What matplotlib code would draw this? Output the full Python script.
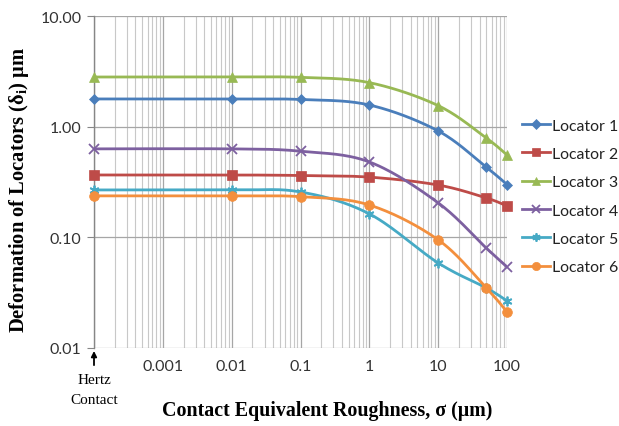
import numpy as np
import matplotlib
matplotlib.use("Agg")
import matplotlib.pyplot as plt
from matplotlib.ticker import FixedLocator, NullFormatter, LogLocator

plt.rcParams['mathtext.fontset'] = 'custom'
plt.rcParams['mathtext.rm'] = 'Liberation Serif:bold'
plt.rcParams['mathtext.it'] = 'Liberation Serif:bold'
plt.rcParams['mathtext.bf'] = 'Liberation Serif:bold'

# ---- data ----
sigma = [0.0001, 0.01, 0.1, 1, 10, 50, 100]   # 0.0001 = Hertz contact
loc1 = [1.78, 1.78, 1.76, 1.57, 0.915, 0.43, 0.30]
loc2 = [0.366, 0.366, 0.362, 0.35, 0.297, 0.227, 0.192]
loc3 = [2.81, 2.81, 2.79, 2.50, 1.55, 0.79, 0.555]
loc4 = [0.63, 0.63, 0.60, 0.48, 0.205, 0.080, 0.054]
loc5 = [0.268, 0.268, 0.257, 0.163, 0.0587, 0.0349, 0.0267]
loc6 = [0.237, 0.237, 0.233, 0.196, 0.095, 0.035, 0.0212]
labels = ["Locator 1", "Locator 2", "Locator 3", "Locator 4", "Locator 5", "Locator 6"]
xtick_vals = [0.001, 0.01, 0.1, 1, 10, 100]
xtick_labels = ["0.001", "0.01", "0.1", "1", "10", "100"]
ytick_vals = [0.01, 0.1, 1, 10]
ytick_labels = ["0.01", "0.10", "1.00", "10.00"]

series = [loc1, loc2, loc3, loc4, loc5, loc6]
colors = ["#4A7EBB", "#BE4B48", "#98B954", "#7D60A0", "#46AAC5", "#F38F3D"]
markers = ["D", "s", "^", "x", (6, 2, 0), "o"]
msizes = [5.5, 7, 7, 7, 7, 7]


def smooth(xs, ys, n=30):
    P = np.column_stack([np.log10(xs), np.log10(ys)])
    out = []
    for i in range(len(P) - 1):
        p0 = P[max(i - 1, 0)]; p1 = P[i]; p2 = P[i + 1]; p3 = P[min(i + 2, len(P) - 1)]
        b1 = p1 + (p2 - p0) / 6.0
        b2 = p2 - (p3 - p1) / 6.0
        t = np.linspace(0, 1, n)[:, None]
        seg = (1 - t) ** 3 * p1 + 3 * (1 - t) ** 2 * t * b1 + 3 * (1 - t) * t ** 2 * b2 + t ** 3 * p2
        out.append(seg if i == 0 else seg[1:])
    S = np.vstack(out)
    return 10 ** S[:, 0], 10 ** S[:, 1]


fig = plt.figure(figsize=(6.19, 4.27), dpi=100)
ax = fig.add_axes([94 / 619, 1 - 349 / 427, (507 - 94) / 619, (349 - 17) / 427])
ax.set_xscale('log')
ax.set_yscale('log')
ax.set_xlim(0.0001, 100)
ax.set_ylim(0.01, 10)

handles = []
for ys, c, m, ms, lab in zip(series, colors, markers, msizes, labels):
    sx, sy = smooth(sigma, ys)
    mew = 1.3 if m in ("x", (6, 2, 0)) else 0.5
    ax.plot(sx, sy, color=c, lw=2.0, zorder=3, solid_capstyle='round')
    ax.plot(sigma, ys, linestyle='none', marker=m, color=c, ms=ms, mew=mew,
            mec=c, zorder=4, clip_on=False)
    h, = ax.plot([], [], color=c, lw=2.0, marker=m, ms=ms * 0.85, mec=c, mew=mew)
    handles.append(h)

# grid
ax.xaxis.set_major_locator(FixedLocator([0.0001] + xtick_vals))
ax.xaxis.set_minor_locator(LogLocator(base=10, subs=np.arange(2, 10), numticks=20))
ax.xaxis.set_minor_formatter(NullFormatter())
ax.set_xticklabels([""] + xtick_labels)
ax.yaxis.set_major_locator(FixedLocator(ytick_vals))
ax.yaxis.set_minor_locator(FixedLocator([]))
ax.set_yticklabels(ytick_labels)
ax.grid(True, which='major', axis='both', color='#A6A6A6', lw=0.9)
ax.grid(True, which='minor', axis='x', color='#C8C8C8', lw=0.8)
ax.set_axisbelow(True)
for s in ['top', 'right', 'bottom']:
    ax.spines[s].set_visible(False)
ax.spines['left'].set_color('#868686')
ax.spines['left'].set_linewidth(1.0)
ax.tick_params(axis='both', which='both', length=0, labelsize=11.5, colors='#333333', pad=8)
ax.tick_params(axis='y', which='major', length=5, color='#868686', direction='out', pad=4)
for lbl in ax.get_xticklabels() + ax.get_yticklabels():
    lbl.set_fontfamily('Lato')

# Hertz contact annotation
ax.annotate("", xy=(0.0001, 0.0094), xytext=(0.0001, 0.0070), xycoords='data',
            arrowprops=dict(arrowstyle='-|>', color='black', lw=1.3, mutation_scale=8,
                            shrinkA=0, shrinkB=0),
            annotation_clip=False)
fig.text(94 / 619, 1 - 381 / 427, "Hertz", ha='center', va='center', fontsize=11,
         family='Liberation Serif')
fig.text(94 / 619, 1 - 401 / 427, "Contact", ha='center', va='center', fontsize=11,
         family='Liberation Serif')

fig.text(327 / 619, 1 - 411 / 427, "Contact Equivalent Roughness, σ (µm)", ha='center', va='center',
         fontsize=14.4, fontweight='bold', family='Liberation Serif')
fig.text(19 / 619, 1 - 190 / 427, r"Deformation of Locators (δ$_\mathrm{i}$) µm", ha='center', va='center',
         rotation=90, fontsize=14.8, fontweight='bold', family='Liberation Serif')

leg = fig.legend(handles, labels, loc='upper left', bbox_to_anchor=(522 / 619, 1 - 119.5 / 427),
                 frameon=False, handlelength=1.75, handletextpad=0.12,
                 labelspacing=0.9, borderaxespad=0, borderpad=0,
                 prop={'family': 'Lato', 'size': 11.4})
for t in leg.get_texts():
    t.set_color('#222222')

fig.savefig("out.png", dpi=100)
